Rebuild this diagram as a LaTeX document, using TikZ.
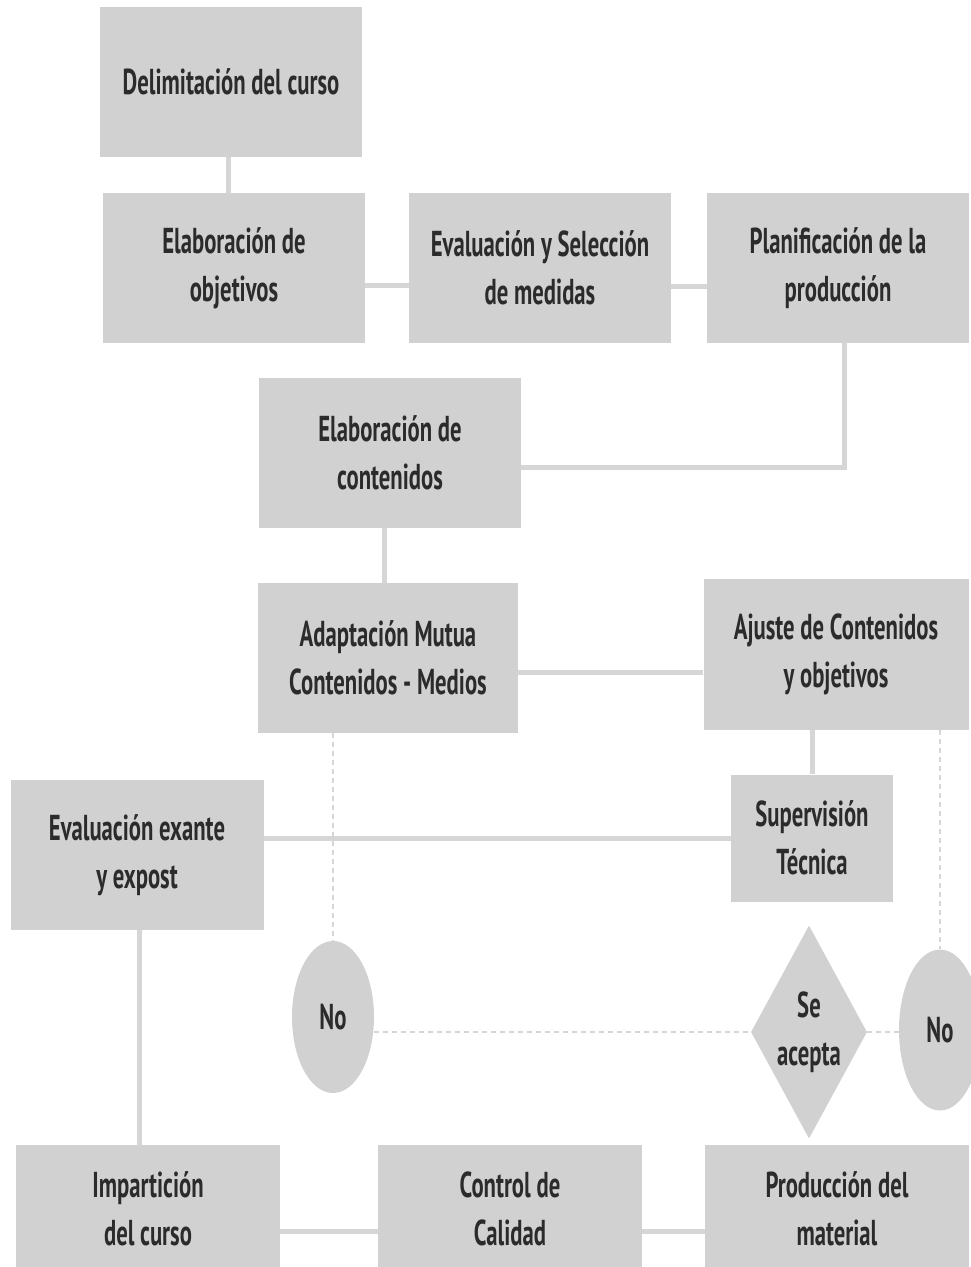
\documentclass[tikz,border=0pt]{standalone}
\usepackage{fontspec}
\newfontfamily\flowfont{PT Sans}[FakeStretch=0.63]
\usetikzlibrary{shapes.geometric,calc}
\definecolor{boxgray}{HTML}{D1D1D1}
\definecolor{linegray}{HTML}{D6D6D6}
\definecolor{textgray}{HTML}{2B2B2B}

\begin{document}
\begin{tikzpicture}[x=1pt,y=-1pt,
    bloque/.style={rectangle, fill=boxgray, inner sep=0pt, minimum width=262pt, minimum height=150pt,
        align=center, text=textgray, font=\flowfont\bfseries\fontsize{36}{48}\selectfont},
    decision/.style={diamond, fill=boxgray, inner sep=0pt, aspect=0.545, minimum width=116pt, minimum height=213pt,
        align=center, text=textgray, font=\flowfont\bfseries\fontsize{36}{48}\selectfont},
    negativo/.style={ellipse, fill=boxgray, inner sep=0pt, minimum width=82pt, minimum height=152pt,
        text=textgray, font=\flowfont\bfseries\fontsize{36}{48}\selectfont},
    enlace/.style={draw=linegray, line width=5pt},
    punteado/.style={draw=linegray, line width=2.5pt, dash pattern=on 5pt off 4pt}]
    %Frame - same size as the original picture%
    %===========================================================
    \useasboundingbox (0,0) rectangle (971,1267);
    %Boxes of the course design%
    %===========================================================
    \node[bloque] (delimitacion) at (231,82) {Delimitación del curso};
    \node[bloque] (objetivos) at (234,268) {Elaboración de\\objetivos};
    \node[bloque] (medidas) at (540,268) {Evaluación y Selección\\de medidas};
    \node[bloque] (planificacion) at (838,268) {Planificación de la\\producción};
    \node[bloque] (contenidos) at (390,453) {Elaboración de\\contenidos};
    \node[bloque, minimum width=260pt] (adaptacion) at (388,658) {Adaptación Mutua\\Contenidos - Medios};
    \node[bloque, minimum width=265pt, minimum height=151pt] (ajuste) at (836,654) {Ajuste de Contenidos\\y objetivos};
    \node[bloque, minimum width=162pt, minimum height=127pt] (supervision) at (812,838) {Supervisión\\Técnica};
    \node[bloque, minimum width=253pt] (evaluacion) at (137,855) {Evaluación exante\\y expost};
    %Decision and answers%
    \node[negativo] (noizq) at (333,1017) {No};
    \node[decision] (acepta) at (809,1032) {Se\\acepta};
    \node[negativo, minimum height=161pt] (noder) at (940,1030) {No};
    %Bottom row (cut by the frame)%
    \node[bloque, minimum width=264pt, minimum height=128pt] (imparticion) at (148,1209) {Impartición\\del curso};
    \node[bloque, minimum width=264pt, minimum height=128pt] (control) at (510,1209) {Control de\\Calidad};
    \node[bloque, minimum width=264pt, minimum height=128pt] (produccion) at (837,1209) {Producción del\\material};
    %Connectors%
    %===========================================================
    \draw[enlace] ([xshift=-3pt]delimitacion.south) -- ([xshift=-3pt]delimitacion.south |- objetivos.north);
    \draw[enlace] ([yshift=-17pt]objetivos.east) -- ([yshift=-17pt]objetivos.east -| medidas.west);
    \draw[enlace] ([yshift=-18pt]medidas.east) -- ([yshift=-18pt]medidas.east -| planificacion.west);
    \draw[enlace] ([xshift=6pt]planificacion.south) |- ([yshift=-14pt]contenidos.east);
    \draw[enlace] ([xshift=-6pt]contenidos.south) -- ([xshift=-6pt]contenidos.south |- adaptacion.north);
    \draw[enlace] ([yshift=-14pt]adaptacion.east) -- ([yshift=-14pt]adaptacion.east -| ajuste.west);
    \draw[enlace] (ajuste.south -| supervision.north) -- (supervision.north);
    \draw[enlace] (supervision.west) -- (supervision.west -| evaluacion.east);
    \draw[enlace] (evaluacion.south -| imparticion.north) ++(-9pt,0) coordinate (evalbase) -- (evalbase |- imparticion.north);
    \draw[enlace] ([yshift=-22pt]imparticion.east) -- ([yshift=-22pt]imparticion.east -| control.west);
    \draw[enlace] ([yshift=-22pt]control.east) -- ([yshift=-22pt]control.east -| produccion.west);
    %Dashed answers%
    \draw[punteado] (adaptacion.south -| noizq.north) -- (noizq.north);
    \draw[punteado] (ajuste.south -| noder.north) -- (noder.north);
    \draw[punteado] (noizq.east |- acepta.west) -- (acepta.west);
    \draw[punteado] (acepta.east) -- (acepta.east -| noder.west);
\end{tikzpicture}
\end{document}
